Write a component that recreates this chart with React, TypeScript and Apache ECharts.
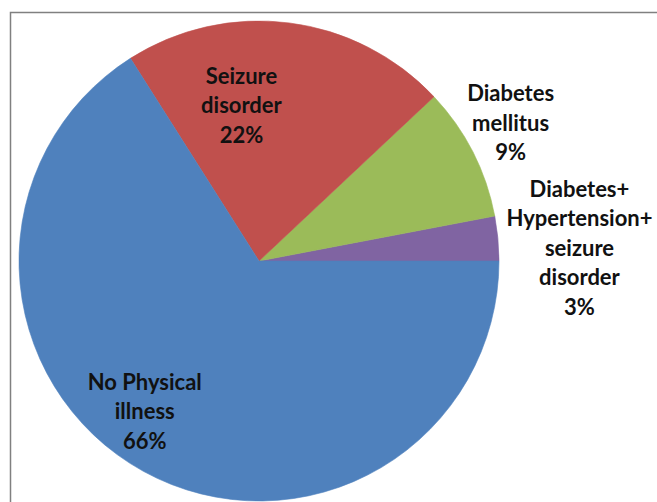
import React, { useEffect, useRef } from "react";
import * as echarts from "echarts";

const categories = [
  "Diabetes+\nHypertension+\nseizure\ndisorder",
  "Diabetes\nmellitus",
  "Seizure\ndisorder",
  "No Physical\nillness",
];
const values = [3, 9, 22, 66];
const colors = ["#8064A2", "#9BBB59", "#C0504D", "#4F81BD"];
// label offsets (pixels) from the default inside-label position
const labelOffsets = [
  [198, -2],
  [142, -83],
  [-33, -34],
  [-55, 42],
];

export default function App() {
  const ref = useRef<HTMLDivElement>(null);
  useEffect(() => {
    if (!ref.current) return;
    const chart = echarts.init(ref.current, undefined, { renderer: "svg" });
    chart.setOption({
      animation: false,
      backgroundColor: "#ffffff",
      graphic: [
        {
          type: "rect",
          shape: { x: 10.5, y: 12.5, width: 700, height: 600 },
          style: { fill: "none", stroke: "#808080", lineWidth: 1.5 },
          silent: true,
          z: 0,
        },
      ],
      series: [
        {
          type: "pie",
          center: [259, 261],
          radius: [0, 240],
          startAngle: 0,
          clockwise: false,
          silent: true,
          emphasis: { disabled: true },
          label: {
            show: true,
            position: "inside",
            formatter: "{b}\n{d}%",
            fontFamily: "Lato",
            fontWeight: "bold",
            fontSize: 22,
            lineHeight: 29.5,
            color: "#111111",
            align: "center",
          },
          labelLine: { show: false },
          labelLayout: (params: any) => {
            const o = labelOffsets[params.dataIndex];
            return { dx: o[0], dy: o[1] };
          },
          data: categories.map((name, i) => ({
            name,
            value: values[i],
            itemStyle: { color: colors[i], borderColor: colors[i], borderWidth: 0.6 },
          })),
        },
      ],
    });
    return () => chart.dispose();
  }, []);
  return (
    <div
      ref={ref}
      style={{ position: "fixed", left: 0, top: 0, width: 657, height: 502 }}
    />
  );
}
